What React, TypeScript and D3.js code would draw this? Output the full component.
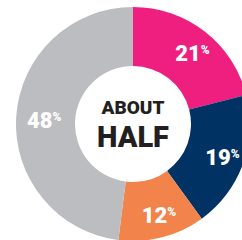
import React, { useEffect, useRef } from 'react';
import * as d3 from 'd3';

const labels = ['21', '19', '12', '48'];
const values = [21, 19, 12, 48];
const colors = ['#EE1F7E', '#003263', '#F2844B', '#BCBDC0'];
const centerLines = ['ABOUT', 'HALF'];

const App = () => {
  const svgRef = useRef<SVGSVGElement>(null);

  useEffect(() => {
    const svg = d3.select(svgRef.current);
    svg.selectAll('*').remove();

    const cx = 133;
    const cy = 124;
    const outer = 117;
    const inner = 58;

    const g = svg.append('g').attr('transform', `translate(${cx},${cy})`);

    const pie = d3.pie<number>().sort(null).value(d => d);
    const arcs = pie(values);
    const arc = d3.arc<d3.PieArcDatum<number>>().innerRadius(inner).outerRadius(outer);
    const labelArc = d3.arc<d3.PieArcDatum<number>>().innerRadius(92).outerRadius(92);

    g.selectAll('path.slice')
      .data(arcs)
      .enter().append('path')
      .attr('class', 'slice')
      .attr('d', arc)
      .attr('fill', (d, i) => colors[i]);

    const font = 'Roboto, "Noto Sans", "DejaVu Sans", sans-serif';

    const lbl = g.selectAll('text.value')
      .data(arcs)
      .enter().append('text')
      .attr('class', 'value')
      .attr('transform', d => {
        const [x, y] = labelArc.centroid(d);
        return `translate(${x + 3},${y + 4})`;
      })
      .attr('text-anchor', 'middle')
      .attr('dy', '0.36em')
      .style('font-family', font)
      .style('font-weight', 900)
      .style('fill', '#fff');

    lbl.append('tspan')
      .style('font-size', '22px')
      .text((d, i) => labels[i]);
    lbl.append('tspan')
      .attr('dy', '-0.6em')
      .style('font-size', '12px')
      .text('%');

    // center text
    g.append('text')
      .attr('text-anchor', 'middle')
      .attr('y', -10)
      .style('font-family', font)
      .style('font-weight', 900)
      .style('font-size', '19px')
      .style('fill', '#231F20')
      .text(centerLines[0]);

    g.append('text')
      .attr('text-anchor', 'middle')
      .attr('y', 23)
      .style('font-family', font)
      .style('font-weight', 900)
      .style('font-size', '29px')
      .style('fill', '#231F20')
      .text(centerLines[1]);
  }, []);

  return (
    <svg
      ref={svgRef}
      width={242}
      height={240}
      style={{ position: 'absolute', left: 0, top: 0, background: '#fff' }}
    />
  );
};

export default App;
